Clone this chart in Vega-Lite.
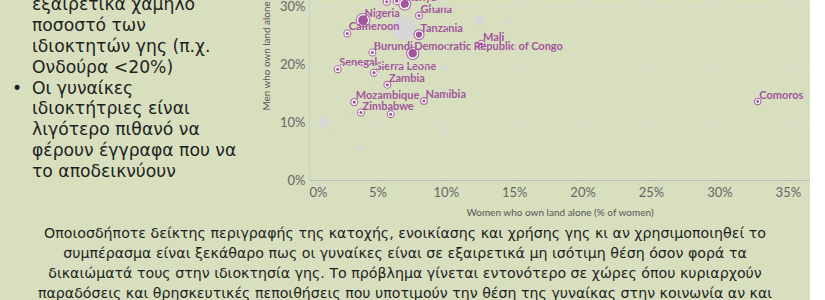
{
  "$schema": "https://vega.github.io/schema/vega-lite/v6.json",
  "background": "#d8dfbe",
  "padding": 0,
  "config": {"view": {"stroke": null}, "font": "Lato"},
  "spacing": 60,
  "bounds": "flush",
  "title": {
    "text": [
      "Οποιοσδήποτε δείκτης περιγραφής της κατοχής, ενοικίασης και χρήσης γης κι αν χρησιμοποιηθεί το",
      "συμπέρασμα είναι ξεκάθαρο πως οι γυναίκες είναι σε εξαιρετικά μη ισότιμη θέση όσον φορά τα",
      "δικαιώματά τους στην ιδιοκτησία γης. Το πρόβλημα γίνεται εντονότερο σε χώρες όπου κυριαρχούν",
      "παραδόσεις και θρησκευτικές πεποιθήσεις που υποτιμούν την θέση της γυναίκας στην κοινωνία αν και"
    ],
    "orient": "bottom",
    "anchor": "middle",
    "frame": "bounds",
    "baseline": "top",
    "offset": 3,
    "font": "DejaVu Sans",
    "fontSize": 14.2,
    "fontWeight": "normal",
    "color": "#1f1f1f",
    "lineHeight": 20
  },
  "datasets": {
    "left": [
      {"line": 1, "text": "εξαιρετικά χαμηλό", "bullet": false},
      {"line": 2, "text": "ποσοστό των", "bullet": false},
      {"line": 3, "text": "ιδιοκτητών γης (π.χ.", "bullet": false},
      {"line": 4, "text": "Ονδούρα <20%)", "bullet": false},
      {"line": 5, "text": "Οι γυναίκες", "bullet": true},
      {"line": 6, "text": "ιδιοκτήτριες είναι", "bullet": false},
      {"line": 7, "text": "λιγότερο πιθανό να", "bullet": false},
      {"line": 8, "text": "φέρουν έγγραφα που να", "bullet": false},
      {"line": 9, "text": "το αποδεικνύουν", "bullet": false}
    ],
    "africa": [
      {"country": "Nigeria", "women": 3.95, "men": 27.7, "pop": 89},
      {"country": "Cameroon", "women": 2.8, "men": 25.4, "pop": 4},
      {"country": "Ghana", "women": 8.04, "men": 28.5, "pop": 4},
      {"country": "Tanzania", "women": 8.04, "men": 25.2, "pop": 33},
      {"country": "Burundi", "women": 4.63, "men": 22.1, "pop": 4},
      {"country": "Democratic Republic of Congo", "women": 7.58, "men": 21.95, "pop": 66},
      {"country": "Mali", "women": 12.6, "men": 23.6, "pop": 4},
      {"country": "Senegal", "women": 2.1, "men": 19.2, "pop": 4},
      {"country": "Sierra Leone", "women": 4.75, "men": 18.6, "pop": 4},
      {"country": "Zambia", "women": 5.73, "men": 16.5, "pop": 4},
      {"country": "Mozambique", "women": 3.31, "men": 13.5, "pop": 6},
      {"country": "Zimbabwe", "women": 3.8, "men": 11.7, "pop": 4},
      {"country": "Namibia", "women": 8.4, "men": 13.7, "pop": 3},
      {"country": "Comoros", "women": 32.8, "men": 13.6, "pop": 2},
      {"country": "Kenya", "women": 7.0, "men": 30.5, "pop": 63},
      {"women": 5.97, "men": 11.4, "pop": 4},
      {"women": 5.68, "men": 30.9, "pop": 4},
      {"women": 6.41, "men": 31.0, "pop": 4}
    ],
    "other": [
      {"women": 6.91, "men": 26.3, "pop": 566},
      {"women": 12.45, "men": 27.7, "pop": 107},
      {"women": 14.45, "men": 27.4, "pop": 17},
      {"women": 8.85, "men": 22.2, "pop": 7},
      {"women": 6.85, "men": 20.8, "pop": 7},
      {"women": 9.94, "men": 19.4, "pop": 14},
      {"women": 2.75, "men": 18.9, "pop": 5},
      {"women": 4.7, "men": 15.8, "pop": 6},
      {"women": 3.12, "men": 11.4, "pop": 6},
      {"women": 1.12, "men": 9.93, "pop": 96},
      {"women": 1.58, "men": 7.8, "pop": 7},
      {"women": 3.73, "men": 5.6, "pop": 22},
      {"women": 10.07, "men": 8.67, "pop": 5},
      {"women": 9.5, "men": 30.8, "pop": 7}
    ]
  },
  "hconcat": [
    {
      "width": 249,
      "height": 224,
      "data": {"name": "left"},
      "encoding": {
        "x": {"datum": 0, "type": "quantitative", "scale": {"domain": [0, 1]}, "axis": null},
        "y": {"field": "line", "type": "quantitative", "scale": {"domain": [0.745, 11.514], "reverse": true, "nice": false, "zero": false}, "axis": null}
      },
      "layer": [
        {
          "mark": {"type": "text", "align": "left", "baseline": "middle", "dx": 32, "font": "DejaVu Sans", "fontSize": 17.2, "fill": "#1f1f1f", "clip": true},
          "encoding": {"text": {"field": "text"}}
        },
        {
          "transform": [{"filter": "datum.bullet"}],
          "mark": {"type": "text", "align": "center", "baseline": "middle", "dx": 17, "font": "DejaVu Sans", "fontSize": 17.2, "fill": "#1f1f1f", "text": "•", "clip": true},
          "encoding": {}
        }
      ]
    },
    {
      "width": 501,
      "height": 180,
      "encoding": {
        "x": {
          "field": "women", "type": "quantitative",
          "scale": {"domain": [0, 36.62], "nice": false, "zero": false},
          "axis": {
            "title": "Women who own land alone (% of women)",
            "values": [0, 5, 10, 15, 20, 25, 30, 35],
            "labelExpr": "datum.value + '%'",
            "zindex": 1,
            "grid": true, "gridColor": "#dddddd", "gridDash": [3, 3],
            "ticks": false, "domainColor": "#bbbbbb",
            "labelFont": "Lato", "labelFontSize": 13, "labelColor": "#666666",
            "labelPadding": 6, "labelFlush": true,
            "titleFont": "Lato", "titleFontSize": 10, "titleFontWeight": "normal", "titleColor": "#555555", "titlePadding": 8
          }
        },
        "y": {
          "field": "men", "type": "quantitative",
          "scale": {"domain": [0, 31.2], "nice": false, "zero": false},
          "axis": {
            "title": "Men who own land alone",
            "values": [0, 10, 20, 30],
            "labelExpr": "datum.value + '%'",
            "zindex": 1,
            "grid": true, "gridColor": "#dddddd", "gridDash": [3, 3],
            "ticks": false, "domainColor": "#cccccc",
            "labelFont": "Lato", "labelFontSize": 13, "labelColor": "#666666",
            "labelPadding": 4, "labelFlush": false,
            "titleFont": "Lato", "titleFontSize": 9.9, "titleFontWeight": "normal", "titleColor": "#555555",
            "titleAnchor": "start", "titleAlign": "left", "titleY": 110, "titlePadding": 8
          }
        },
        "size": {"field": "pop", "type": "quantitative", "scale": {"type": "linear", "domain": [0, 600], "range": [6, 606], "clamp": false, "zero": false, "nice": false}, "legend": null}
      },
      "layer": [
        {
          "data": {"values": [{"panel": "chart background"}]},
          "mark": {"type": "rect", "fill": "white", "clip": false},
          "encoding": {
            "x": {"datum": -4.386, "type": "quantitative"},
            "x2": {"datum": 37.72},
            "y": {"datum": 31.2, "type": "quantitative"},
            "y2": {"datum": -7.627},
            "size": null
          }
        },
        {
          "data": {"values": [{"line": "equality"}]},
          "mark": {"type": "rule", "color": "#cccccc", "strokeDash": [2, 2], "strokeWidth": 1, "clip": true},
          "encoding": {
            "x": {"datum": 0, "type": "quantitative"},
            "y": {"datum": 0, "type": "quantitative"},
            "x2": {"datum": 40},
            "y2": {"datum": 40},
            "size": null
          }
        },
        {
          "data": {"name": "other"},
          "mark": {"type": "circle", "fill": "#d6d6d6", "opacity": 1, "clip": true}
        },
        {
          "data": {"name": "africa"},
          "mark": {"type": "circle", "fill": "#a2559c", "opacity": 1, "stroke": "#a2559c", "strokeWidth": 4.8, "strokeOpacity": 0.85, "clip": true}
        },
        {
          "data": {"name": "africa"},
          "mark": {"type": "circle", "fill": "#a2559c", "opacity": 1, "stroke": "white", "strokeWidth": 2.6, "clip": true}
        },
        {
          "data": {"name": "africa"},
          "mark": {"type": "circle", "fill": "#a2559c", "opacity": 1, "strokeWidth": 0, "clip": true}
        },
        {
          "data": {"name": "africa"},
          "transform": [{"filter": "isValid(datum.country)"}],
          "mark": {"type": "text", "align": "left", "baseline": "alphabetic", "dx": 1.5, "dy": -3, "font": "Lato", "fontSize": 11, "fontWeight": "bold", "fill": "#a2559c", "clip": true},
          "encoding": {"text": {"field": "country"}, "size": null}
        }
      ]
    }
  ]
}
